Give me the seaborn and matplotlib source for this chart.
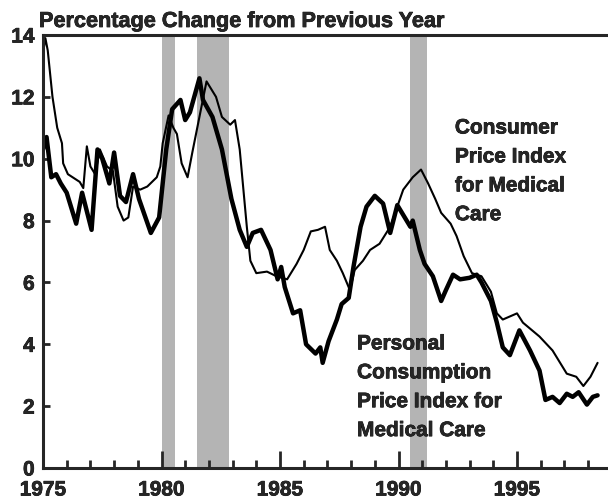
import matplotlib
matplotlib.use("Agg")
import matplotlib.pyplot as plt
from matplotlib import font_manager
import matplotlib.patheffects as pe
import os
import pandas as pd
import numpy as np
import seaborn as sns

# Percentage change from previous year
cpi_year = [1975.0, 1975.1, 1975.2, 1975.4, 1975.6, 1975.8, 1975.85, 1976.05, 1976.55, 1976.7,
            1976.85, 1977.0, 1977.2, 1977.4, 1977.7, 1977.95, 1978.15, 1978.4, 1978.6, 1978.8,
            1979.1, 1979.4, 1979.8, 1979.95, 1980.05, 1980.3, 1980.5, 1980.65, 1980.85, 1981.1,
            1981.3, 1981.6, 1981.9, 1982.3, 1982.55, 1982.9, 1983.1, 1983.3, 1983.6, 1983.75,
            1984.0, 1984.45, 1984.85, 1985.3, 1985.7, 1986.0, 1986.3, 1986.6, 1986.9, 1987.1,
            1987.4, 1987.65, 1987.95, 1988.15, 1988.5, 1988.8, 1989.2, 1989.65, 1990.2, 1990.6,
            1990.95, 1991.25, 1991.55, 1991.8, 1992.2, 1992.45, 1992.75, 1993.1, 1993.5, 1993.9,
            1994.15, 1994.4, 1995.0, 1995.25, 1995.95, 1996.5, 1997.1, 1997.5, 1997.8, 1998.1,
            1998.4]
cpi_value = [13.4, 13.9, 13.5, 12.0, 11.0, 10.5, 9.85, 9.5, 9.25, 9.05,
             10.4, 9.75, 9.5, 10.3, 9.75, 9.6, 8.45, 8.0, 8.1, 9.1,
             9.0, 9.1, 9.4, 9.75, 10.5, 11.4, 11.0, 10.8, 9.85, 9.4,
             10.2, 11.35, 12.5, 12.0, 11.35, 11.1, 11.25, 10.3, 7.8, 6.7,
             6.3, 6.35, 6.2, 6.1, 6.6, 7.05, 7.65, 7.7, 7.8, 7.05,
             6.7, 6.3, 5.75, 6.4, 6.7, 7.05, 7.25, 7.8, 9.0, 9.4,
             9.65, 9.2, 8.7, 8.25, 7.9, 7.5, 6.85, 6.3, 6.2, 5.7,
             5.0, 4.8, 5.0, 4.7, 4.25, 3.8, 3.05, 2.95, 2.65, 2.95,
             3.4]

pce_year = [1975.0, 1975.15, 1975.35, 1975.55, 1975.75, 1976.0, 1976.4, 1976.65, 1977.05, 1977.3,
            1977.5, 1977.8, 1978.0, 1978.25, 1978.5, 1978.8, 1979.05, 1979.55, 1979.9, 1980.2,
            1980.45, 1980.8, 1981.0, 1981.2, 1981.6, 1981.75, 1982.15, 1982.55, 1982.95, 1983.3,
            1983.6, 1983.85, 1984.2, 1984.6, 1984.9, 1985.05, 1985.2, 1985.55, 1985.85, 1986.1,
            1986.5, 1986.7, 1986.8, 1987.05, 1987.4, 1987.6, 1987.9, 1988.1, 1988.4, 1988.65,
            1989.0, 1989.35, 1989.65, 1989.95, 1990.5, 1990.6, 1990.9, 1991.1, 1991.45, 1991.8,
            1992.0, 1992.3, 1992.6, 1993.0, 1993.3, 1993.5, 1993.9, 1994.15, 1994.4, 1994.7,
            1995.0, 1995.1, 1995.55, 1995.95, 1996.2, 1996.5, 1996.8, 1997.1, 1997.35, 1997.6,
            1997.95, 1998.2, 1998.4]
pce_value = [10.3, 10.7, 9.4, 9.5, 9.2, 8.9, 7.9, 8.9, 7.7, 10.3,
             10.0, 9.2, 10.2, 8.8, 8.6, 9.5, 8.7, 7.6, 8.1, 10.3,
             11.6, 11.9, 11.25, 11.5, 12.6, 11.9, 11.35, 10.3, 8.7, 7.7,
             7.15, 7.6, 7.7, 7.05, 6.1, 6.5, 5.85, 5.0, 5.1, 4.0,
             3.7, 3.9, 3.4, 4.1, 4.8, 5.3, 5.5, 6.5, 7.8, 8.45,
             8.8, 8.55, 7.6, 8.5, 7.8, 8.0, 7.05, 6.6, 6.2, 5.4,
             5.75, 6.25, 6.1, 6.15, 6.25, 6.0, 5.4, 4.7, 3.9, 3.65,
             4.25, 4.45, 3.8, 3.15, 2.2, 2.3, 2.1, 2.4, 2.3, 2.45,
             2.05, 2.3, 2.35]

# recession periods
rec_start = [1980.0, 1981.5, 1990.5]
rec_end = [1980.55, 1982.85, 1991.2]

cpi = pd.DataFrame({"year": cpi_year, "value": cpi_value})
pce = pd.DataFrame({"year": pce_year, "value": pce_value})

# find a real bold sans file (Helvetica-like first)
files = {os.path.basename(f.fname): f.fname for f in font_manager.fontManager.ttflist}
bold_file = None
for name in ['LiberationSans-Bold.ttf', 'Arimo-Bold.ttf', 'Inter-Bold.otf', 'Lato-Bold.ttf', 'DejaVuSans-Bold.ttf']:
    if name in files:
        bold_file = files[name]
        break

def bold(size):
    return font_manager.FontProperties(fname=bold_file, size=size)

thick = [pe.withStroke(linewidth=0.5, foreground='black')]

sns.set_style("ticks")

fig = plt.figure(figsize=(6.08, 5.03), dpi=100)
ax = fig.add_axes([43 / 608, 35 / 503, 565 / 608, 433 / 503])

for s, e in zip(rec_start, rec_end):
    ax.axvspan(s, e, color='#b4b4b4', lw=0, zorder=0)

sns.lineplot(data=cpi, x="year", y="value", ax=ax, color='black', lw=1.5)
sns.lineplot(data=pce, x="year", y="value", ax=ax, color='black', lw=3.2)

ax.set_xlim(1975, 1975 + 565 / 23.7)
ax.set_ylim(0, 14)
ax.set_xticks([1975, 1980, 1985, 1990, 1995])
ax.set_xticks(np.arange(1976, 1999), minor=True)
ax.set_yticks([0, 2, 4, 6, 8, 10, 12, 14])
ax.set_xlabel('')
ax.set_ylabel('')
ax.tick_params(axis='x', which='major', direction='in', length=12, width=2, pad=9)
ax.tick_params(axis='x', which='minor', direction='in', length=6, width=2)
ax.tick_params(axis='y', direction='in', length=5, width=2, pad=6)
for lab in ax.get_xticklabels() + ax.get_yticklabels():
    lab.set_fontproperties(bold(15))
    lab.set_path_effects(thick)

ax.spines['right'].set_visible(False)
for side in ['left', 'bottom', 'top']:
    ax.spines[side].set_linewidth(2.2)

fig.text(39 / 608, 1 - 27 / 503, 'Percentage Change from Previous Year',
         fontproperties=bold(15.6), ha='left', va='baseline', path_effects=thick)

ax.text(1992.38, 11.3, 'Consumer\nPrice Index\nfor Medical\nCare', fontproperties=bold(15),
        ha='left', va='top', linespacing=1.66, path_effects=thick)
ax.text(1988.25, 4.32, 'Personal\nConsumption\nPrice Index for\nMedical Care', fontproperties=bold(15),
        ha='left', va='top', linespacing=1.66, path_effects=thick)

fig.savefig('out.png', dpi=100)
